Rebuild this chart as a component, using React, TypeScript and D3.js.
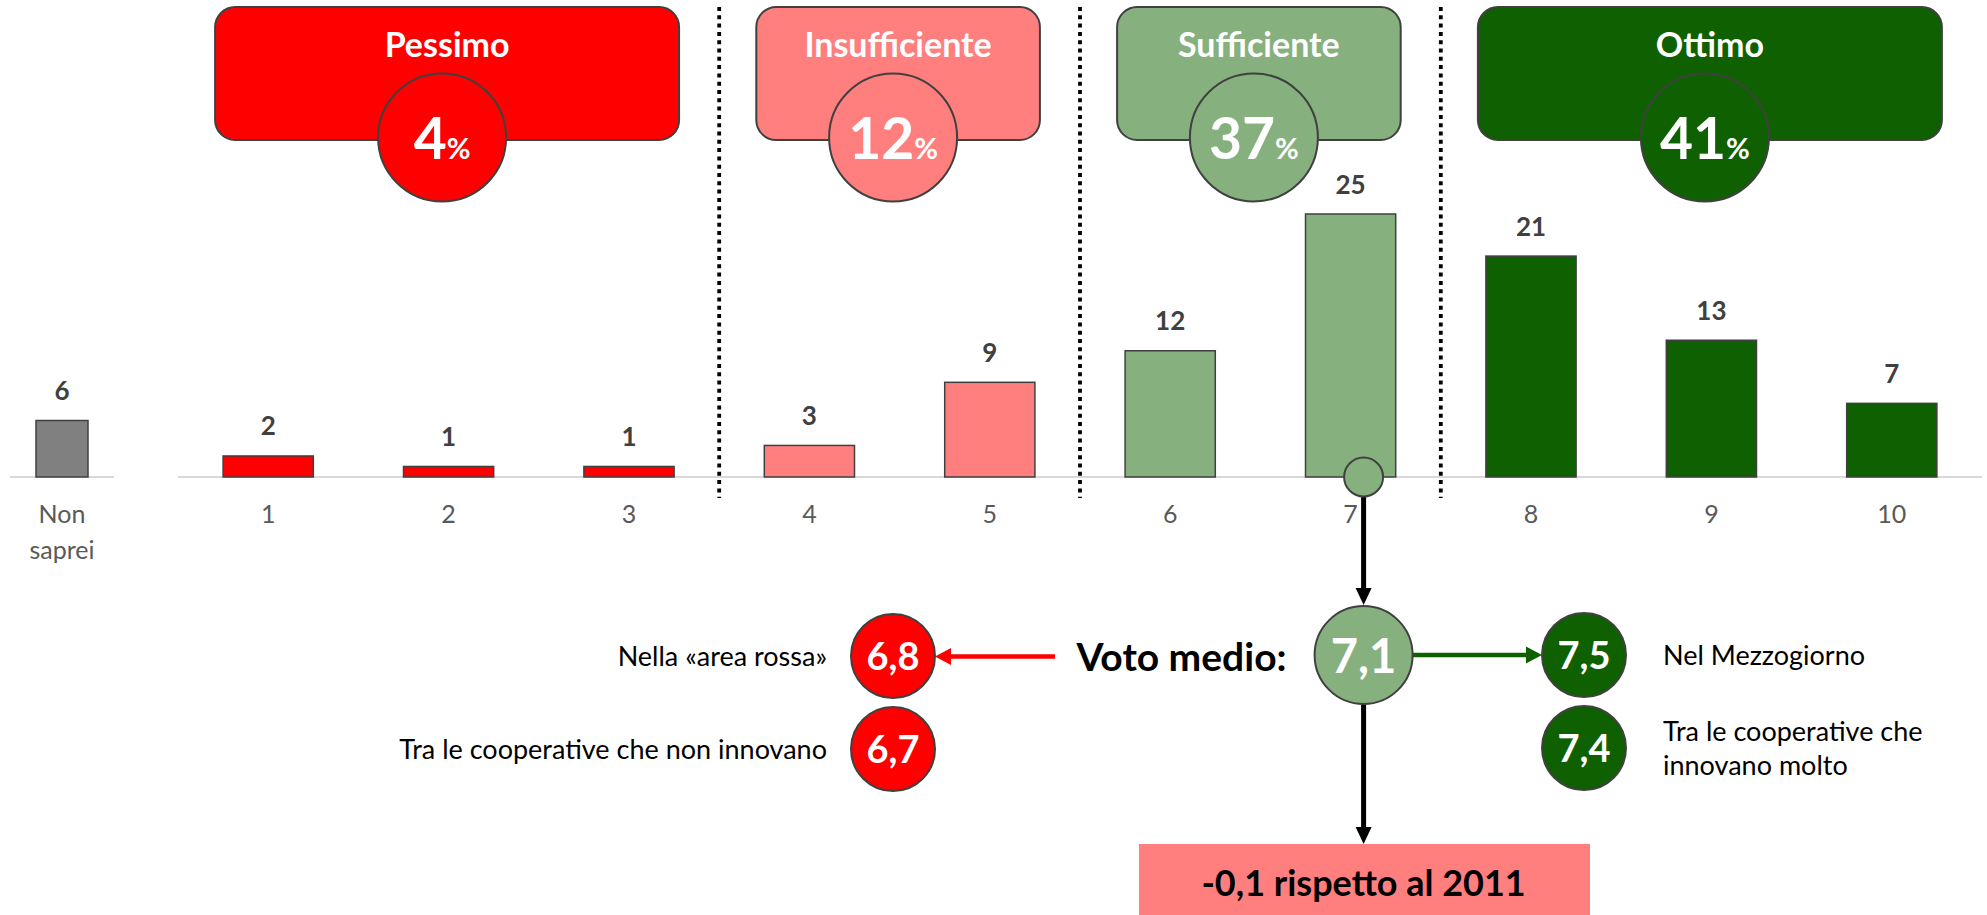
import React, { useEffect } from "react";
import * as d3 from "d3";

// ---------- data ----------
const categories = ["1", "2", "3", "4", "5", "6", "7", "8", "9", "10"];
const shares = [2, 1, 1, 3, 9, 12, 25, 21, 13, 7];
const groupOfCategory = [
  "Pessimo", "Pessimo", "Pessimo",
  "Insufficiente", "Insufficiente",
  "Sufficiente", "Sufficiente",
  "Ottimo", "Ottimo", "Ottimo",
];
const groupNames = ["Pessimo", "Insufficiente", "Sufficiente", "Ottimo"];
const groupTotals = [4, 12, 37, 41];
const dontKnowCategory = "Non saprei";
const dontKnowLines = ["Non", "saprei"];
const dontKnowValue = 6;
const meanVote = "7,1";
const meanCategory = "7";
const lowerLabels = [["Nella «area rossa»"], ["Tra le cooperative che non innovano"]];
const lowerValues = ["6,8", "6,7"];
const higherLabels = [["Nel Mezzogiorno"], ["Tra le cooperative che", "innovano molto"]];
const higherValues = ["7,5", "7,4"];
const deltaText = "-0,1 rispetto al 2011";

// ---------- styles ----------
const GROUP_COLORS: Record<string, string> = {
  Pessimo: "#ff0000",
  Insufficiente: "#ff7f7f",
  Sufficiente: "#86b07e",
  Ottimo: "#0e6000",
};
const FONT = "Lato, 'Open Sans', sans-serif";
const STROKE = "#404040";

const W = 1987;
const H = 915;

export default function App() {
  useEffect(() => {
    document.body.style.margin = "0";
    document.body.style.overflow = "hidden";
  }, []);

  const baseY = 477;
  const x = d3.scaleBand<string>().domain(categories).range([178, 1982]).paddingInner(0.5).paddingOuter(0.25);
  const y = d3.scaleLinear().domain([0, 25]).range([baseY, baseY - 263]);
  const xd = d3.scaleBand<string>().domain([dontKnowCategory]).range([10, 114]).paddingInner(0.5).paddingOuter(0.25);
  const yd = d3.scaleLinear().domain([0, dontKnowValue]).range([baseY, baseY - 56.5]);
  const bw = x.bandwidth();
  const step = x.step();

  // group extents
  const groups = groupNames.map((g, gi) => {
    const cats = categories.filter((_, i) => groupOfCategory[i] === g);
    const x0 = (x(cats[0]) as number) - 8;
    const x1 = (x(cats[cats.length - 1]) as number) + bw + 5;
    return { name: g, total: groupTotals[gi], x0, x1, cats };
  });
  const separators = groups.slice(0, -1).map((g) => {
    const last = g.cats[g.cats.length - 1];
    return (x(last) as number) + bw + (step - bw) / 2;
  });

  // lower annotations layout
  const meanX = (x(meanCategory) as number) + bw / 2 + 13;
  const rowY = 655;
  const meanR = 49;
  const smallR = 42;
  const leftCx = 893;
  const rightCx = 1584;
  const rowGap = 93;

  const arrowDown = (xx: number, tipY: number, w: number, l: number) =>
    `M${xx - w / 2},${tipY - l}L${xx + w / 2},${tipY - l}L${xx},${tipY}Z`;
  const arrowLeft = (tipX: number, yy: number, w: number, l: number) =>
    `M${tipX + l},${yy - w / 2}L${tipX + l},${yy + w / 2}L${tipX},${yy}Z`;
  const arrowRight = (tipX: number, yy: number, w: number, l: number) =>
    `M${tipX - l},${yy - w / 2}L${tipX - l},${yy + w / 2}L${tipX},${yy}Z`;

  const boxY0 = 7;
  const boxY1 = 140;
  const bodySize = 27;

  return (
    <svg width={W} height={H} style={{ position: "absolute", left: 0, top: 0, fontFamily: FONT }}>
      <rect x={0} y={0} width={W} height={H} fill="#ffffff" />

      {/* separators */}
      {separators.map((sx, i) => (
        <line key={"sep" + i} x1={sx} x2={sx} y1={7} y2={498} stroke="#000" strokeWidth={3.8} strokeDasharray="4 4.3" />
      ))}

      {/* axis lines */}
      <line x1={x.range()[0]} x2={x.range()[1]} y1={baseY} y2={baseY} stroke="#d9d9d9" strokeWidth={2} />
      <line x1={xd.range()[0]} x2={xd.range()[1]} y1={baseY} y2={baseY} stroke="#d9d9d9" strokeWidth={2} />

      {/* don't know bar */}
      <rect
        x={xd(dontKnowCategory)}
        y={yd(dontKnowValue)}
        width={xd.bandwidth()}
        height={baseY - yd(dontKnowValue)}
        fill="#808080"
        stroke={STROKE}
        strokeWidth={1.5}
      />
      <text
        x={(xd(dontKnowCategory) as number) + xd.bandwidth() / 2}
        y={yd(dontKnowValue) - 20.5}
        textAnchor="middle"
        fontSize={26}
        fontWeight={700}
        fill="#404040"
      >
        {dontKnowValue}
      </text>
      {dontKnowLines.map((t, i) => (
        <text
          key={"dk" + i}
          x={(xd(dontKnowCategory) as number) + xd.bandwidth() / 2}
          y={523 + i * 36}
          textAnchor="middle"
          fontSize={25}
          fill="#595959"
        >
          {t}
        </text>
      ))}

      {/* bars */}
      {categories.map((c, i) => (
        <g key={"bar" + c}>
          <rect
            x={x(c)}
            y={y(shares[i])}
            width={bw}
            height={baseY - y(shares[i])}
            fill={GROUP_COLORS[groupOfCategory[i]]}
            stroke={STROKE}
            strokeWidth={1.5}
          />
          <text
            x={(x(c) as number) + bw / 2}
            y={y(shares[i]) - 20.5}
            textAnchor="middle"
            fontSize={26}
            fontWeight={700}
            fill="#404040"
          >
            {shares[i]}
          </text>
          <text x={(x(c) as number) + bw / 2} y={523} textAnchor="middle" fontSize={25} fill="#595959">
            {c}
          </text>
        </g>
      ))}

      {/* group headers */}
      {groups.map((g) => {
        const cx = (g.x0 + g.x1) / 2;
        return (
          <g key={"hdr" + g.name}>
            <rect
              x={g.x0}
              y={boxY0}
              width={g.x1 - g.x0}
              height={boxY1 - boxY0}
              rx={20}
              ry={20}
              fill={GROUP_COLORS[g.name]}
              stroke={STROKE}
              strokeWidth={2}
            />
            <text x={cx} y={57} textAnchor="middle" fontSize={34} fontWeight={700} fill="#ffffff">
              {g.name}
            </text>
            <circle cx={cx - 5} cy={137.5} r={64} fill={GROUP_COLORS[g.name]} stroke={STROKE} strokeWidth={2} />
            <text x={cx - 5} y={159} textAnchor="middle" fontWeight={700} fill="#ffffff">
              <tspan fontSize={57}>{g.total}</tspan>
              <tspan fontSize={29}>%</tspan>
            </text>
          </g>
        );
      })}

      {/* mean marker on the axis and arrows */}
      <line x1={meanX} x2={meanX} y1={baseY + 19} y2={589} stroke="#000" strokeWidth={5} />
      <path d={arrowDown(meanX, 605, 16, 17)} fill="#000" />
      <circle cx={meanX} cy={baseY} r={19.5} fill={GROUP_COLORS.Sufficiente} stroke={STROKE} strokeWidth={2} />

      <line x1={meanX} x2={meanX} y1={rowY + meanR} y2={828} stroke="#000" strokeWidth={5} />
      <path d={arrowDown(meanX, 844, 16, 17)} fill="#000" />

      {/* left red arrow */}
      <line x1={1055} x2={leftCx + smallR + 15} y1={rowY + 1.5} y2={rowY + 1.5} stroke="#ff0000" strokeWidth={4.5} />
      <path d={arrowLeft(leftCx + smallR, rowY + 1.5, 17, 16)} fill="#ff0000" />

      {/* right green arrow */}
      <line x1={meanX + meanR} x2={rightCx - smallR - 14} y1={rowY} y2={rowY} stroke={GROUP_COLORS.Ottimo} strokeWidth={4.5} />
      <path d={arrowRight(rightCx - smallR, rowY, 17, 16)} fill={GROUP_COLORS.Ottimo} />

      {/* mean circle */}
      <text x={meanX - 77} y={671} textAnchor="end" fontSize={39} fontWeight={700} fill="#000">
        Voto medio:
      </text>
      <circle cx={meanX} cy={rowY} r={meanR} fill={GROUP_COLORS.Sufficiente} stroke={STROKE} strokeWidth={2} />
      <text x={meanX} y={rowY + 18} textAnchor="middle" fontSize={47} fontWeight={700} fill="#ffffff">
        {meanVote}
      </text>

      {/* lower values (left) */}
      {lowerValues.map((v, i) => {
        const cy = rowY + 1 + i * rowGap;
        return (
          <g key={"lv" + i}>
            <circle cx={leftCx} cy={cy} r={smallR} fill={GROUP_COLORS.Pessimo} stroke={STROKE} strokeWidth={2} />
            <text x={leftCx} y={cy + 14} textAnchor="middle" fontSize={38} fontWeight={700} fill="#ffffff">
              {v}
            </text>
            {lowerLabels[i].map((t, j) => (
              <text key={j} x={827} y={cy + 10 + j * 34} textAnchor="end" fontSize={bodySize} fill="#000">
                {t}
              </text>
            ))}
          </g>
        );
      })}

      {/* higher values (right) */}
      {higherValues.map((v, i) => {
        const cy = rowY + i * rowGap;
        const lines = higherLabels[i];
        const firstBase = cy + 10 - ((lines.length - 1) * 34) / 2;
        return (
          <g key={"hv" + i}>
            <circle cx={rightCx} cy={cy} r={smallR} fill={GROUP_COLORS.Ottimo} stroke={STROKE} strokeWidth={2} />
            <text x={rightCx} y={cy + 14} textAnchor="middle" fontSize={38} fontWeight={700} fill="#ffffff">
              {v}
            </text>
            {lines.map((t, j) => (
              <text key={j} x={1663} y={firstBase + j * 34} textAnchor="start" fontSize={bodySize} fill="#000">
                {t}
              </text>
            ))}
          </g>
        );
      })}

      {/* delta box */}
      <rect x={1139} y={844} width={451} height={71} fill={GROUP_COLORS.Insufficiente} />
      <text x={meanX} y={896} textAnchor="middle" fontSize={36} fontWeight={700} fill="#000">
        {deltaText}
      </text>
    </svg>
  );
}
